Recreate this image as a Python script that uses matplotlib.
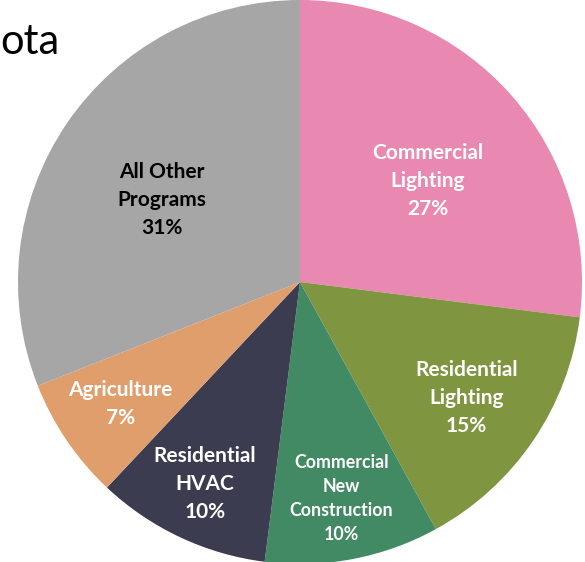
"""Share of program savings pie chart."""

import numpy as np
import matplotlib
matplotlib.use("Agg")
import matplotlib.pyplot as plt

plt.rcParams["font.family"] = ["Lato", "DejaVu Sans"]

labels = ["Commercial\nLighting", "Residential\nLighting", "Commercial\nNew\nConstruction",
          "Residential\nHVAC", "Agriculture", "All Other\nPrograms"]
shares = [27, 15, 10, 10, 7, 31]
colors = ["#E988B1", "#7F953F", "#428A64", "#3B3C50", "#E09E6D", "#A6A6A6"]
text_colors = ["white", "white", "white", "white", "white", "black"]
label_dist = [0.577, 0.72, 0.78, 0.79, 0.77, 0.57]
label_turn = [-3.0, -0.7, 0.0, 0.0, 0.0, 3.5]
label_size = [15, 15, 12.8, 15, 15, 15]


def main() -> None:
    fig = plt.figure(figsize=(5.85, 5.62), dpi=100)
    ax = fig.add_axes([0, 0, 1, 1])

    center = (300, 280)
    radius = 282
    wedges, _ = ax.pie(shares, colors=colors, startangle=90, counterclock=False,
                       center=center, radius=radius, frame=True)
    ax.set_xlim(0, 585)
    ax.set_ylim(0, 562)
    ax.set_aspect("equal")
    ax.axis("off")

    for w, lab, pct, tc, d, turn, fs in zip(wedges, labels, shares, text_colors,
                                            label_dist, label_turn, label_size):
        mid = np.deg2rad((w.theta1 + w.theta2) / 2 + turn)
        x = center[0] + d * radius * np.cos(mid)
        y = center[1] + d * radius * np.sin(mid)
        ax.text(x, y, f"{lab}\n{pct}%", ha="center", va="center", color=tc,
                fontsize=fs, fontweight="bold", linespacing=1.5)

    fig.text(0.0, 0.925, "ota", fontsize=30, ha="left", va="center", color="black")

    fig.savefig("out.png", dpi=100)
    plt.close(fig)


if __name__ == "__main__":
    main()
